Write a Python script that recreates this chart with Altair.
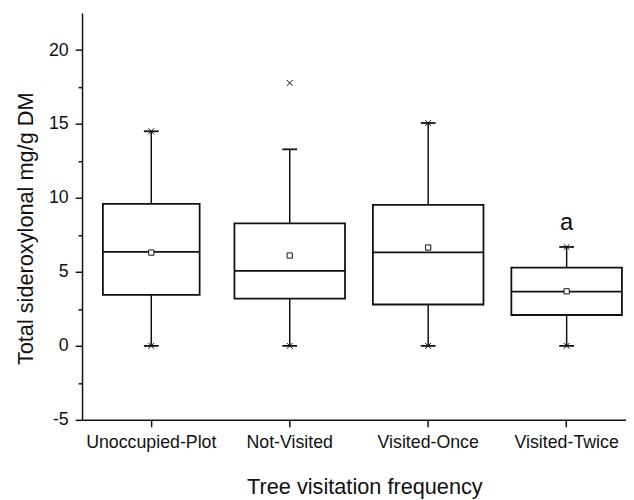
import altair as alt
import pandas as pd

cats = ["Unoccupied-Plot", "Not-Visited", "Visited-Once", "Visited-Twice"]
q1 = [3.45, 3.2, 2.8, 2.09]
median = [6.36, 5.07, 6.33, 3.67]
q3 = [9.6, 8.29, 9.53, 5.29]
whisk_lo = [0, 0, 0, 0]
whisk_hi = [14.51, 13.29, 15.07, 6.69]
means = [6.31, 6.11, 6.65, 3.69]
letters = ["", "", "", "a"]

ext_cat = ["Unoccupied-Plot", "Unoccupied-Plot", "Not-Visited", "Not-Visited",
           "Visited-Once", "Visited-Once", "Visited-Twice", "Visited-Twice"]
ext_val = [0, 14.51, 0, 17.78, 0, 15.07, 0, 6.69]

y_ticks = [-5, -2.5, 0, 2.5, 5, 7.5, 10, 12.5, 15, 17.5, 20]

df = pd.DataFrame({"cat": cats, "q1": q1, "median": median, "q3": q3,
                   "lo": whisk_lo, "hi": whisk_hi, "mean": means, "letter": letters})
ext = pd.DataFrame({"cat": ext_cat, "val": ext_val})

INK = "#111111"

xenc = alt.X("cat:N", sort=cats,
             scale=alt.Scale(domain=cats, range=[0, 561], paddingInner=0, paddingOuter=0),
             axis=alt.Axis(title="Tree visitation frequency", labelAngle=0, labelFontSize=18,
                           titleFontSize=22, tickSize=7, labelPadding=7,
                           titleX=286, titleY=75, titleBaseline="alphabetic"))
yscale = alt.Scale(domain=[-5, 22.5], nice=False, zero=False)
yaxis = alt.Axis(values=y_ticks, title="Total sideroxylonal mg/g DM",
                 labelExpr="datum.value % 5 === 0 ? replace(datum.label, '\u2212', '-') : ''",
                 tickSize={"condition": {"test": "datum.value % 5 === 0", "value": 7}, "value": 4},
                 labelFontSize=18, titleFontSize=22, labelPadding=7,
                 titleX=-57, titleY=218, titleBaseline="middle")

box_w = alt.condition(alt.datum.cat == "Unoccupied-Plot", alt.value(98), alt.value(112))

base = alt.Chart(df)

whisk = base.mark_rule(color=INK, strokeWidth=1.5).encode(
    x=xenc, y=alt.Y("lo:Q", scale=yscale, axis=yaxis), y2="hi:Q")

box = base.mark_bar(fill="white", stroke=INK, strokeWidth=1.8).encode(
    x=xenc, y=alt.Y("q1:Q", scale=yscale), y2="q3:Q", size=box_w)

med = base.mark_tick(color=INK, thickness=1.8, opacity=1).encode(
    x=xenc, y=alt.Y("median:Q", scale=yscale), size=box_w)

cap_lo = base.mark_tick(color=INK, thickness=1.8, size=15, opacity=1).encode(
    x=xenc, y=alt.Y("lo:Q", scale=yscale))
cap_hi = base.mark_tick(color=INK, thickness=1.8, size=15, opacity=1).encode(
    x=xenc, y=alt.Y("hi:Q", scale=yscale))

extreme = alt.Chart(ext).mark_point(
    shape="M-1,-1L1,1M-1,1L1,-1", filled=False, color=INK, size=35, strokeWidth=1, opacity=1
).encode(x=xenc, y=alt.Y("val:Q", scale=yscale))

mean_pt = base.mark_point(shape="square", filled=True, fill="white", stroke=INK,
                          strokeWidth=1, size=28, opacity=1).encode(
    x=xenc, y=alt.Y("mean:Q", scale=yscale))

lab = base.mark_text(font="Liberation Sans", fontSize=24, color=INK, dy=-17,
                     baseline="alphabetic").encode(
    x=xenc, y=alt.Y("hi:Q", scale=yscale), text="letter:N")

chart = alt.layer(whisk, box, med, cap_lo, cap_hi, extreme, mean_pt, lab).properties(
    width=551, height=412,
    autosize=alt.AutoSizeParams(type="none"),
    padding={"left": 75, "top": 2, "right": 0, "bottom": 78},
).configure_axis(
    grid=False, domainColor=INK, tickColor=INK, labelColor=INK, titleColor=INK,
    domainWidth=1.5, tickWidth=1.5, labelFont="Liberation Sans", titleFont="Liberation Sans",
    titleFontWeight="normal"
).configure_view(stroke=None)

chart.save("out.html", embed_options={"renderer": "svg", "actions": False})
